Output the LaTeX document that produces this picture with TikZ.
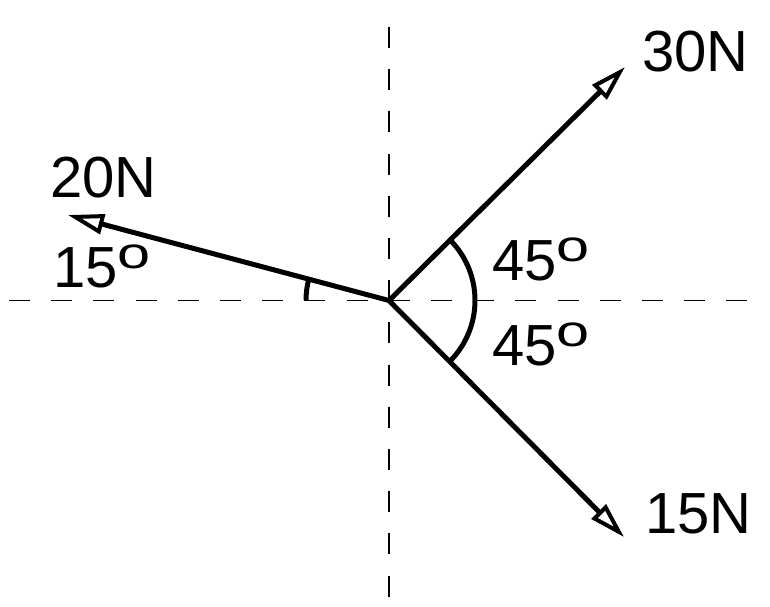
\documentclass[tikz,border=0pt]{standalone}
\usepackage{fontspec}
\setmainfont{Liberation Sans}
\usetikzlibrary{arrows.meta}
\tikzset{
  axisline/.style={line width=1.8pt, dash pattern=on 21pt off 21.2pt},
  force/.style={line width=5pt, -{Triangle[open,length=36pt,width=20pt,line width=4pt]}},
  anglemark/.style={line width=5pt},
  lab/.style={inner sep=0pt, anchor=base west, font=\fontsize{58}{58}\selectfont},
}
\newcommand{\dego}{\raisebox{19pt}{\scalebox{1.35}[1.0]{\fontsize{44}{44}\selectfont o}}}
\begin{document}
\begin{tikzpicture}[x=1pt,y=-1pt]
\useasboundingbox (0,0) rectangle (770,606);
\coordinate (O) at (389,300.5);
\coordinate (vt) at (389,27);
\coordinate (vb) at (389,597);
\coordinate (hl) at (9,300.5);
\coordinate (hr) at (748,300.5);
\draw[axisline] (vt) -- (vb);
\draw[axisline] (hl) -- (hr);
\coordinate (t30) at (625,67);
\coordinate (t15) at (624,537);
\coordinate (t20) at (68,215);
\draw[force] (O) -- (t30);
\draw[force] (O) -- (t15);
\draw[force] (O) -- (t20);
\draw[anglemark] ([shift={(-45:86)}]O) arc[start angle=-45,end angle=45,radius=86];
\draw[anglemark] ([shift={(180:83)}]O) arc[start angle=180,end angle=195,radius=83];
\node[lab] (l30) at (642,71) {30N};
\node[lab] (l15) at (645,533) {15N};
\node[lab] (l20) at (50,197) {20N};
\node[lab] (a15) at (53,287) {15\dego};
\node[lab] (a45u) at (492,280) {45\dego};
\node[lab] (a45l) at (492,365) {45\dego};
\end{tikzpicture}
\end{document}
